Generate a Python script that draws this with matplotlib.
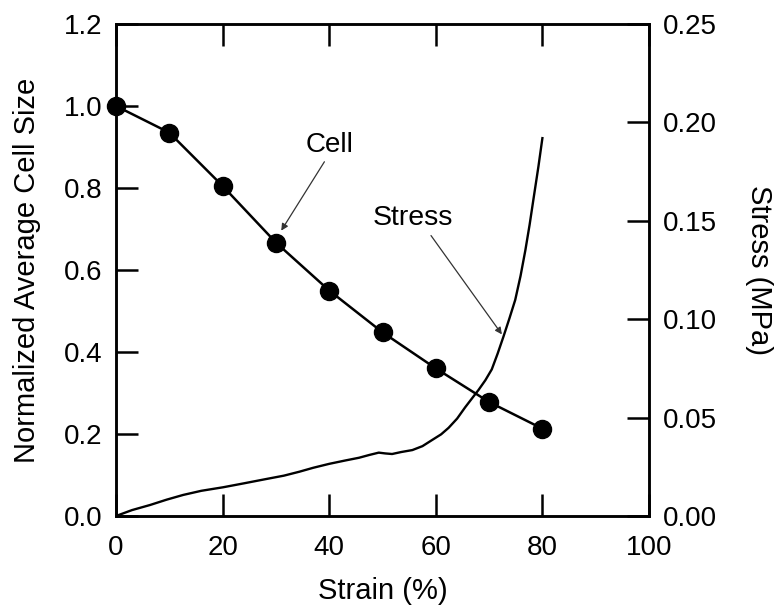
import matplotlib
matplotlib.use("Agg")
import matplotlib.pyplot as plt

plt.rcParams['font.family'] = ['Liberation Sans', 'DejaVu Sans']

# Normalized average cell size at each strain step
strain_cell = [0, 10, 20, 30, 40, 50, 60, 70, 80]
cell_size = [1.0, 0.935, 0.805, 0.667, 0.55, 0.448, 0.36, 0.278, 0.213]

# Compressive stress-strain record
strain_stress = [0, 3, 6.4, 9.5, 12.6, 16, 20.1, 24, 28.2, 31.5, 34.4, 37, 40,
                 43, 45.6, 47.5, 49.3, 50.5, 51.8, 53.5, 55.6, 57.5, 59.3, 61,
                 62.4, 64, 65.5, 67, 68.0, 69.3, 70.5, 71.6, 72.7, 73.8, 74.9,
                 75.9, 76.8, 77.6, 78.3, 79.25, 80.0]
stress_mpa = [0, 0.003, 0.0056, 0.0083, 0.0107, 0.0128, 0.0146, 0.0166, 0.0188,
              0.0205, 0.0225, 0.0245, 0.0265, 0.0282, 0.0296, 0.031, 0.0322,
              0.0318, 0.0315, 0.0325, 0.0335, 0.0355, 0.0386, 0.0415, 0.0448,
              0.0495, 0.0552, 0.0605, 0.064, 0.069, 0.0745, 0.0825, 0.0912,
              0.1003, 0.1098, 0.122, 0.135, 0.148, 0.1606, 0.1775, 0.192]

x_ticks = [0, 20, 40, 60, 80, 100]
left_ticks = [0.0, 0.2, 0.4, 0.6, 0.8, 1.0, 1.2]
right_ticks = [0.0, 0.05, 0.10, 0.15, 0.20, 0.25]

fig = plt.figure(figsize=(7.78, 6.07), dpi=100)
ax = fig.add_axes([116 / 778, 1 - 516 / 607, (649 - 116) / 778, (516 - 24) / 607])
ax2 = ax.twinx()

ax.plot(strain_cell, cell_size, color='black', lw=1.8, marker='o',
        markersize=13, clip_on=False, zorder=3)
ax2.plot(strain_stress, stress_mpa, color='black', lw=1.7)

ax.set_xlim(0, 100)
ax.set_ylim(0, 1.2)
ax2.set_ylim(0, 0.25)

ax.set_xticks(x_ticks)
ax.set_yticks(left_ticks)
ax.set_yticklabels([f"{v:.1f}" for v in left_ticks])
ax2.set_yticks(right_ticks)
ax2.set_yticklabels([f"{v:.2f}" for v in right_ticks])

for a in (ax, ax2):
    for s in a.spines.values():
        s.set_linewidth(1.8)
ax.tick_params(axis='x', direction='in', length=16, width=1.8, top=True,
               labelsize=20, pad=14)
ax.tick_params(axis='y', direction='in', length=16, width=1.8,
               labelsize=20, pad=10)
ax2.tick_params(axis='y', direction='in', length=16, width=1.8,
                labelsize=20, pad=10)

ax.set_xlabel("Strain (%)", fontsize=21, labelpad=11)
ax.set_ylabel("Normalized Average Cell Size", fontsize=21, labelpad=16)
ax2.set_ylabel("Stress (MPa)", fontsize=21, rotation=270, labelpad=40)

arrow = dict(arrowstyle='-|>', color='#333333', lw=0.9,
             mutation_scale=10, shrinkA=0, shrinkB=0)
ax.text(40, 0.906, "Cell", fontsize=20, ha='center', va='center')
ax.annotate("", xy=(31.0, 0.696), xytext=(39.1, 0.864), arrowprops=arrow)
ax.text(55.7, 0.728, "Stress", fontsize=20.5, ha='center', va='center')
ax.annotate("", xy=(72.4, 0.443), xytext=(59.1, 0.684), arrowprops=arrow)

fig.savefig("out.png", dpi=100)
